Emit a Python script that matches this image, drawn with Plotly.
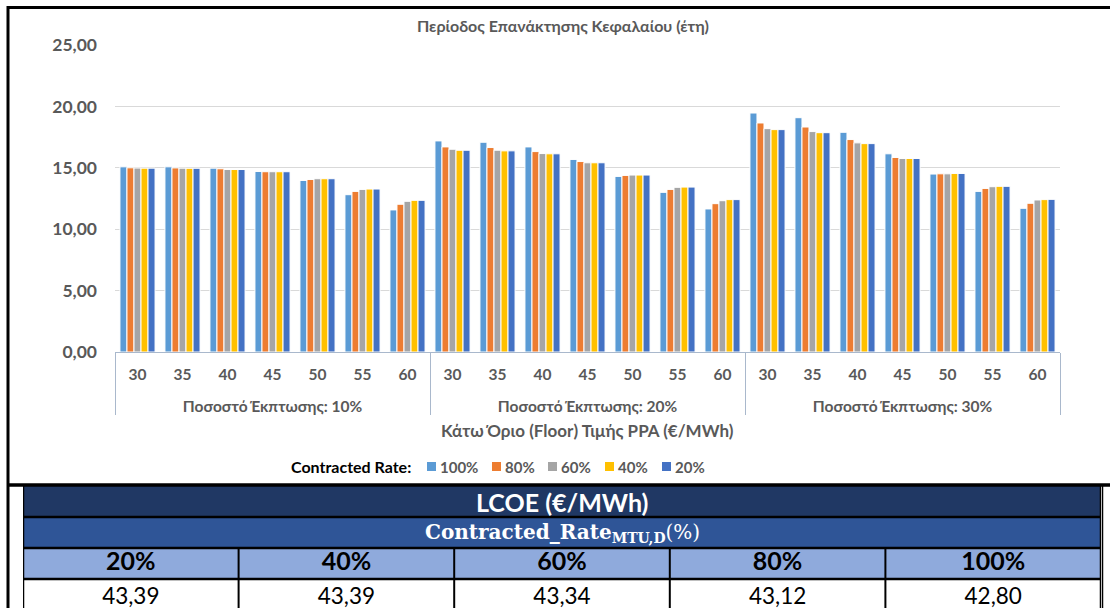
import plotly.graph_objects as go

# --- data ---
floor_prices = ["30", "35", "40", "45", "50", "55", "60"]
discount_groups = ["Ποσοστό Έκπτωσης: 10%", "Ποσοστό Έκπτωσης: 20%", "Ποσοστό Έκπτωσης: 30%"]
series_names = ["100%", "80%", "60%", "40%", "20%"]

rate_100 = [15.08, 15.08, 14.97, 14.70, 13.97, 12.81, 11.57,
            17.19, 17.08, 16.70, 15.68, 14.30, 13.00, 11.65,
            19.46, 19.08, 17.89, 16.14, 14.49, 13.08, 11.70]
rate_80 = [15.00, 14.99, 14.92, 14.68, 14.05, 13.08, 12.03,
           16.70, 16.65, 16.32, 15.51, 14.38, 13.24, 12.08,
           18.65, 18.32, 17.30, 15.84, 14.51, 13.32, 12.11]
rate_60 = [14.98, 14.97, 14.86, 14.68, 14.11, 13.24, 12.27,
           16.51, 16.43, 16.16, 15.41, 14.41, 13.41, 12.32,
           18.19, 17.95, 17.03, 15.76, 14.51, 13.46, 12.38]
rate_40 = [14.97, 14.96, 14.86, 14.68, 14.11, 13.27, 12.35,
           16.43, 16.38, 16.14, 15.41, 14.41, 13.43, 12.41,
           18.11, 17.86, 16.97, 15.76, 14.54, 13.49, 12.41]
rate_20 = [14.97, 14.96, 14.86, 14.68, 14.11, 13.27, 12.35,
           16.43, 16.38, 16.14, 15.41, 14.41, 13.43, 12.41,
           18.11, 17.86, 16.97, 15.76, 14.54, 13.49, 12.43]

lcoe_rates = ["20%", "40%", "60%", "80%", "100%"]
lcoe_values = [43.39, 43.39, 43.34, 43.12, 42.80]

# --- style ---
W, H = 1110, 608
colors = ["#5B9BD5", "#ED7D31", "#A5A5A5", "#FFC000", "#4472C4"]
FONT = "Lato, 'Noto Sans', sans-serif"
GRAY = "#595959"


def px(x):
    return x / W


def py(y):
    return 1 - y / H


fig = go.Figure()

# group labels get a leading blank line so they sit below the price labels
xcat = [["<br>" + g for g in discount_groups for _ in floor_prices],
        [p for _ in discount_groups for p in floor_prices]]

for name, vals, c in zip(series_names, [rate_100, rate_80, rate_60, rate_40, rate_20], colors):
    fig.add_trace(go.Bar(x=xcat, y=vals, name=name, marker=dict(color=c, line=dict(color="white", width=1)),
                         showlegend=False))

# table drawn on its own axes: columns 0..5, rows 0..4 (top row = 3..4)
n = len(lcoe_rates)
fig.add_trace(go.Scatter(x=[i + 0.5 for i in range(n)], y=[1.5] * n, mode="text", text=["<b>%s</b>" % r for r in lcoe_rates],
                         textfont=dict(family=FONT, size=25, color="black"), xaxis="x2", yaxis="y2",
                         showlegend=False, hoverinfo="skip"))
fig.add_trace(go.Scatter(x=[i + 0.5 for i in range(n)], y=[0.37] * n, mode="text",
                         text=[f"{v:.2f}".replace(".", ",") for v in lcoe_values],
                         textfont=dict(family=FONT, size=22.5, color="black"), xaxis="x2", yaxis="y2",
                         showlegend=False, hoverinfo="skip"))

shapes = []
row_fills = [(3, 4, "#203864"), (2, 3, "#2F5597"), (1, 2, "#8FAADC"), (0, 1, "white")]
for y0, y1, fc in row_fills:
    shapes.append(dict(type="rect", xref="x2", yref="y2", x0=0, x1=n, y0=y0, y1=y1, fillcolor=fc,
                       line=dict(width=0), layer="below"))
for yy in [1, 2, 3]:
    shapes.append(dict(type="line", xref="x2", yref="y2", x0=0, x1=n, y0=yy, y1=yy, line=dict(color="black", width=2.5)))
for i in range(1, n):
    shapes.append(dict(type="line", xref="x2", yref="y2", x0=i, x1=i, y0=-0.5, y1=2, line=dict(color="black", width=2)))
for xx in [0, n]:
    shapes.append(dict(type="line", xref="x2", yref="y2", x0=xx, x1=xx, y0=-0.5, y1=4, line=dict(color="black", width=2.5)))

# page frame
shapes += [
    dict(type="line", xref="paper", yref="paper", x0=px(8), x1=px(8), y0=py(6), y1=py(612), line=dict(color="black", width=3)),
    dict(type="line", xref="paper", yref="paper", x0=px(7), x1=1, y0=py(7.5), y1=py(7.5), line=dict(color="black", width=3)),
    dict(type="line", xref="paper", yref="paper", x0=px(7), x1=1, y0=py(485), y1=py(485), line=dict(color="black", width=3.5)),
    dict(type="line", xref="paper", yref="paper", x0=px(1102.5), x1=px(1102.5), y0=py(485), y1=py(612), line=dict(color="black", width=1.5)),
]

annotations = [
    dict(text="<b>LCOE (€/MWh)</b>", xref="x2", yref="y2", x=n / 2, y=3.5,
         font=dict(family=FONT, size=25, color="white")),
    dict(text="<b>Contracted_Rate<sub>MTU,D</sub></b>(%)", xref="x2", yref="y2", x=n / 2, y=2.5,
         font=dict(family="'DejaVu Serif', serif", size=20, color="white")),
    dict(text="<b>Περίοδος Επανάκτησης Κεφαλαίου (έτη)</b>", xref="paper", yref="paper", x=px(563), y=py(26),
         font=dict(family=FONT, size=16, color=GRAY)),
    dict(text="<b>Κάτω Όριο (Floor) Τιμής PPA (€/MWh)</b>", xref="paper", yref="paper", x=px(587), y=py(430),
         font=dict(family=FONT, size=17, color=GRAY)),
    dict(text="<b>Contracted Rate:</b>", xref="paper", yref="paper", x=px(413), y=py(466), xanchor="right",
         font=dict(family=FONT, size=16, color="black")),
]

# legend made of squares + labels
legend_x = [427, 492, 548, 605, 662]
for name, c, lx in zip(series_names, colors, legend_x):
    shapes.append(dict(type="rect", xref="paper", yref="paper", x0=px(lx), x1=px(lx + 9), y0=py(471), y1=py(462),
                       fillcolor=c, line=dict(width=0)))
    annotations.append(dict(text="<b>%s</b>" % name, xref="paper", yref="paper", x=px(lx + 11), y=py(466.5),
                            xanchor="left", font=dict(family=FONT, size=15, color=GRAY)))

for a in annotations:
    a["showarrow"] = False
    a["yanchor"] = "middle"
    a.setdefault("xanchor", "center")

fig.update_layout(
    width=W, height=H, margin=dict(l=0, r=0, t=0, b=0, pad=0),
    paper_bgcolor="white", plot_bgcolor="white",
    separators=",.",
    barmode="group", bargap=0.22, bargroupgap=0,
    font=dict(family=FONT, color=GRAY),
    xaxis=dict(domain=[px(115), px(1060)], type="multicategory", showline=True, linecolor="#A9B8CC", linewidth=1,
               showdividers=True, dividercolor="#A9B8CC", dividerwidth=1, ticklabelstandoff=8, automargin=False,
               tickfont=dict(family=FONT, size=15.5, color=GRAY, weight="bold"), showgrid=False),
    yaxis=dict(domain=[py(352), py(45)], range=[0, 25], dtick=5, tickformat=".2f", showgrid=True,
               gridcolor="#D9D9D9", gridwidth=1, zeroline=False, ticklabelstandoff=17, automargin=False,
               tickfont=dict(family=FONT, size=17.5, color=GRAY, weight="bold")),
    xaxis2=dict(domain=[px(23), px(1101)], range=[0, n], visible=False, fixedrange=True, automargin=False),
    yaxis2=dict(domain=[0, py(486)], range=[4 - 122 / 31, 4], visible=False, fixedrange=True, automargin=False),
    shapes=shapes, annotations=annotations,
)

fig.write_html("out.html", config={"displayModeBar": False},
               post_script="document.body.style.margin='0';document.body.style.overflow='hidden';")
